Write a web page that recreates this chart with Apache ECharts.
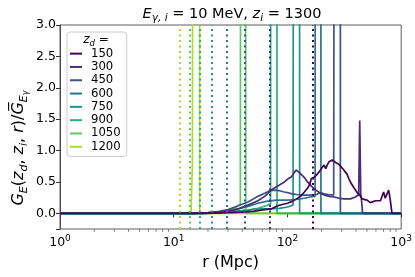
<!DOCTYPE html>
<html><head><meta charset="utf-8">
<script src="https://cdn.jsdelivr.net/npm/echarts@6/dist/echarts.min.js"></script>
<style>html,body{margin:0;padding:0;background:#fff}#c{width:415px;height:277px}</style>
</head><body><div id="c"></div>
<script>
const zdValues = [150, 300, 450, 600, 750, 900, 1050, 1200];
const colors = ['#440154', '#472d7b', '#3b528b', '#2c728e', '#21918c', '#28ae80', '#5ec962', '#addc30'];
const horizonR = [168, 70, 41.9, 29.0, 21.6, 17.1, 13.7, 11.2];
const xTicks = [1, 10, 100, 1000];
const yTicks = [0, 0.5, 1.0, 1.5, 2.0, 2.5, 3.0];

const curve150 = [[1,0],[20,0],[30,0.01],[40,0.02],[50,0.03],[63,0.06],[72,0.07],[82,0.12],[90,0.14],[100,0.16],[110,0.19],[120,0.23],[130,0.27],[141,0.34],[150,0.40],[156,0.45],[160,0.47],[162,0.55],[170,0.57],[178,0.6],[190,0.66],[200,0.72],[210,0.77],[217,0.71],[225,0.78],[232,0.82],[248,0.85],[257,0.83],[270,0.80],[283,0.78],[300,0.73],[313,0.69],[335,0.62],[347,0.55],[365,0.47],[383,0.41],[410,0.33],[430,0.29],[453,0.23],[470,0.21],[501,0.21],[536,0.17],[555,0.15],[594,0.2],[613,0.21],[657,0.2],[679,0.22],[701,0.34],[710,0.37],[724,0.24],[738,0.23],[776,0.37],[802,0.21],[830,0],[1000,0]];
const curve300 = [[1,0],[15,0],[20,0.01],[25,0.02],[30,0.04],[37,0.07],[45,0.13],[55,0.2],[63,0.27],[72,0.37],[85,0.45],[94,0.5],[101,0.55],[108,0.58],[115,0.65],[119,0.69],[125,0.66],[132,0.62],[141,0.57],[150,0.5],[165,0.42],[178,0.37],[195,0.32],[211,0.29],[235,0.27],[257,0.26],[285,0.24],[313,0.23],[358,0.23],[396,0.26],[423,0.3],[432,1.48],[441,0.3],[446,0.25],[458,0],[1000,0]];
const curve450 = [[1,0],[15,0],[20,0.01],[25,0.03],[30,0.06],[37,0.12],[45,0.18],[55,0.27],[63,0.32],[70,0.36],[77,0.37],[85,0.36],[94,0.34],[100,0.33],[110,0.31],[120,0.3],[140,0.29],[160,0.29],[180,0.3],[195,0.33],[210,0.31],[230,0.3],[255,0.29],[262,0.3],[264,20],[291,20],[292,0],[1000,0]];
const curve600 = [[1,0],[17,0],[22,0.01],[28,0.03],[35,0.06],[45,0.11],[55,0.16],[65,0.19],[80,0.21],[100,0.21],[120,0.22],[140,0.24],[160,0.26],[175,0.27],[177,20],[196,20],[197,0],[1000,0]];
const curve750 = [[1,0],[18,0],[25,0.01],[35,0.03],[45,0.05],[55,0.07],[70,0.07],[85,0.08],[100,0.1],[112,0.13],[115,20],[127,20],[128,0],[1000,0]];
const curve900 = [[1,0],[18,0],[25,0.01],[35,0.03],[45,0.05],[55,0.08],[65,0.12],[71,0.15],[72,20],[80,20],[81,0],[1000,0]];
const curve1050 = [[1,0],[18,0],[24,0.01],[30,0.04],[35,0.09],[38.5,0.15],[39.5,20],[42.5,20],[43,0],[1000,0]];
const curve1200 = [[1,0],[12,0],[13.5,0.01],[14.2,0.03],[14.6,0.8],[15.0,20],[16.8,20],[16.9,0],[1000,0]];
const curves = [curve150, curve300, curve450, curve600, curve750, curve900, curve1050, curve1200];

const FONT = 'DejaVu Sans';
const chart = echarts.init(document.getElementById('c'), null, {renderer: 'canvas'});

const minorTicks = [];
for (let k = 0; k < 3; k++) for (let m = 2; m <= 9; m++) minorTicks.push([m * Math.pow(10, k), -0.25]);

const series = [];
for (let i = zdValues.length - 1; i >= 0; i--) {
  series.push({
    name: String(zdValues[i]),
    type: 'line',
    data: curves[i],
    showSymbol: false,
    symbol: 'none',
    clip: true,
    silent: true,
    lineStyle: {color: colors[i], width: 1.7},
    itemStyle: {color: colors[i]},
    markLine: {
      silent: true, symbol: 'none', label: {show: false},
      lineStyle: {color: colors[i], type: [2, 3.5], width: 2},
      data: [{xAxis: horizonR[i]}]
    }
  });
}
series.push({
  type: 'scatter', data: minorTicks, symbol: 'rect', symbolSize: [0.8, 2.5],
  symbolOffset: [0, 1.5], clip: false, silent: true, itemStyle: {color: '#333'}, z: 10
});

chart.setOption({
  animation: false,
  grid: {left: 60, right: 11, top: 25, bottom: 48, show: true, borderColor: '#333', borderWidth: 0.8, backgroundColor: 'transparent'},
  xAxis: {
    type: 'log', logBase: 10, min: xTicks[0], max: xTicks[xTicks.length - 1],
    splitLine: {show: false},
    axisLine: {lineStyle: {color: '#333', width: 0.8}},
    axisTick: {length: 4, lineStyle: {color: '#333'}},
    axisLabel: {
      margin: 5, color: '#000', fontFamily: FONT, fontSize: 12.5,
      formatter: v => '10{s|' + Math.round(Math.log10(v)) + '}',
      rich: {s: {fontSize: 9, fontFamily: FONT, color: '#000', verticalAlign: 'top', lineHeight: 18, padding: [0, 0, 6, 0]}}
    },
    name: 'r (Mpc)', nameLocation: 'middle', nameGap: 24,
    nameTextStyle: {fontFamily: FONT, fontSize: 16, color: '#000'}
  },
  yAxis: {
    type: 'value', min: -0.25, max: yTicks[yTicks.length - 1], splitNumber: 6,
    splitLine: {show: false},
    axisLine: {show: true, lineStyle: {color: '#333', width: 0.8}},
    axisTick: {show: true, length: 4, lineStyle: {color: '#333'}},
    axisLabel: {
      margin: 4, color: '#000', fontFamily: FONT, fontSize: 12.5,
      formatter: v => (Math.abs(v * 2 - Math.round(v * 2)) < 1e-6 ? v.toFixed(1) : '')
    }
  },
  legend: {
    data: zdValues.map(String), orient: 'vertical', left: 67, top: 32,
    padding: [15, 6, 3, 3], itemGap: 0, itemWidth: 12, itemHeight: 2, icon: 'rect',
    backgroundColor: 'rgba(255,255,255,0.85)', borderColor: '#ccc', borderWidth: 1, borderRadius: 3,
    textStyle: {fontFamily: FONT, fontSize: 11.7, color: '#000', lineHeight: 13.3, padding: [0, 0, 0, 4]},
    selectedMode: false
  },
  graphic: [
    {type: 'text', x: 232, y: 14, z: 100, style: {
      text: '{i|E}{s|γ, i}{n| = 10 MeV, }{i|z}{s|i}{n| = 1300}',
      align: 'center', verticalAlign: 'middle',
      rich: {
        n: {fontFamily: FONT, fontSize: 14.5, lineHeight: 20, fill: '#000'},
        i: {fontFamily: FONT, fontStyle: 'italic', fontSize: 14.5, lineHeight: 20, fill: '#000'},
        s: {fontFamily: FONT, fontStyle: 'italic', fontSize: 10.5, lineHeight: 12, verticalAlign: 'bottom', fill: '#000'}
      }
    }},
    {type: 'text', x: 96, y: 40, z: 100, style: {
      text: '{i|z}{s|d}{n| =}', align: 'center', verticalAlign: 'middle',
      rich: {
        n: {fontFamily: FONT, fontSize: 12, lineHeight: 16, fill: '#000'},
        i: {fontFamily: FONT, fontStyle: 'italic', fontSize: 12, lineHeight: 16, fill: '#000'},
        s: {fontFamily: FONT, fontStyle: 'italic', fontSize: 8.5, lineHeight: 10, verticalAlign: 'bottom', fill: '#000'}
      }
    }},
    {type: 'text', x: 19, y: 148, rotation: Math.PI / 2, z: 100, style: {
      text: '{i|G}{s|E}{n|(}{i|z}{s|d}{n|, }{i|z}{s|i}{n|, }{i|r}{n|)/}{i|G\u0305}{s|E}{ss|γ}',
      align: 'center', verticalAlign: 'middle',
      rich: {
        n: {fontFamily: FONT, fontSize: 16, lineHeight: 22, fill: '#000'},
        i: {fontFamily: FONT, fontStyle: 'italic', fontSize: 16, lineHeight: 22, fill: '#000'},
        s: {fontFamily: FONT, fontStyle: 'italic', fontSize: 11, lineHeight: 14, verticalAlign: 'bottom', fill: '#000'},
        ss: {fontFamily: FONT, fontStyle: 'italic', fontSize: 8, lineHeight: 8, verticalAlign: 'bottom', fill: '#000'}
      }
    }}
  ],
  series: series
});
</script></body></html>
